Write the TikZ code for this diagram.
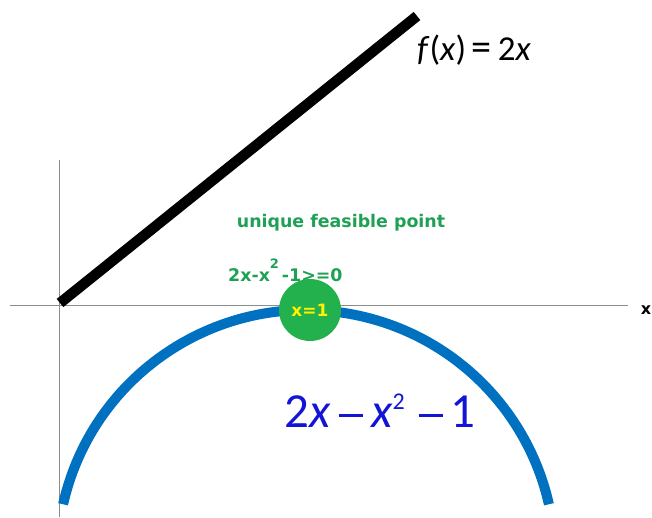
\documentclass[tikz,border=0pt]{standalone}
\usepackage{fontspec}
\setmainfont{Carlito}
\newfontfamily\verd{DejaVu Sans}
\definecolor{arcblue}{RGB}{0,112,192}
\definecolor{dotgreen}{RGB}{34,177,76}
\definecolor{txtgreen}{RGB}{30,160,85}
\definecolor{exprblue}{RGB}{20,20,215}
\definecolor{axisgray}{RGB}{140,140,140}
\newcommand{\bminus}[1]{\raisebox{#1}{\rule{24pt}{2.4pt}}}
\tikzset{
  axis/.style={draw=axisgray, line width=1pt},
  gtext/.style={text=txtgreen, font=\verd\bfseries\fontsize{17.4}{20}\selectfont, inner sep=0pt},
}
\begin{document}
\begin{tikzpicture}[x=1pt,y=-1pt]
\useasboundingbox (0,0) rectangle (652,517);
\coordinate (xl) at (10,305);
\coordinate (xr) at (628,305);
\coordinate (yt) at (59,160);
\coordinate (yb) at (59,517);
\draw[axis] (xl) -- (xr);
\draw[axis] (yt) -- (yb);
\node[font=\verd\bfseries\fontsize{16}{18}\selectfont, inner sep=0pt] (xlab) at (646,310) {x};
\coordinate (l0) at (60,303);
\coordinate (l1) at (417,16);
\draw[line width=10.5pt] (l0) -- (l1);
\node[font=\fontsize{35}{40}\selectfont, inner sep=0pt] (fx) at (474,50) {\textit{f}(\textit{x})\,\resizebox{20pt}{!}{=}\,2\textit{x}};
\draw[arcblue, line width=10pt] (306,559) ++(-167.3:249) arc[start angle=-167.3, end angle=-12.7, radius=249];
\node[circle, fill=dotgreen, minimum size=62pt, inner sep=0pt, text=yellow, font=\verd\bfseries\fontsize{17}{18}\selectfont] (pt) at (310,310) {x=1};
\node[gtext] (uf) at (341,223) {unique feasible point};
\node[gtext, anchor=west] (ineq) at (228,270) {2x-x\raisebox{13pt}{\fontsize{13}{14}\selectfont 2}\,-1>=0};
\node[text=exprblue, font=\fontsize{49}{52}\selectfont, inner sep=0pt] (expr) at (380,411) {2\textit{x}\,\bminus{11pt}\,\textit{x}\raisebox{18pt}{\fontsize{24}{26}\selectfont 2}\;\bminus{11pt}\,1};
\end{tikzpicture}
\end{document}
